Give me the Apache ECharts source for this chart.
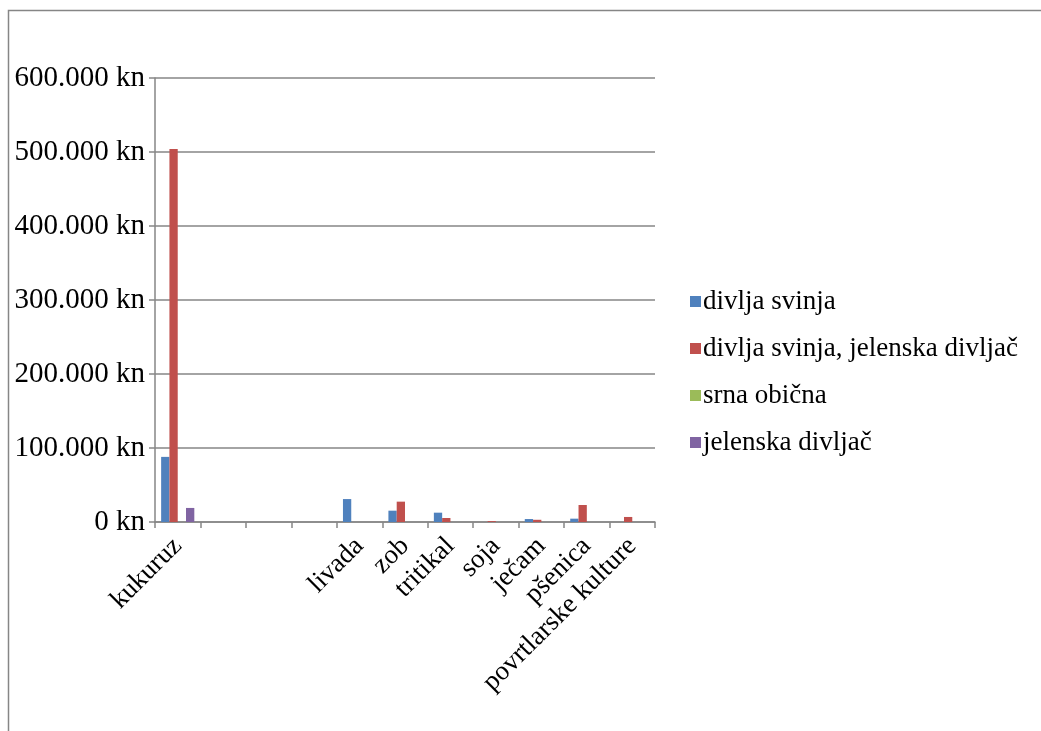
<!DOCTYPE html>
<html><head><meta charset="utf-8">
<script src="https://cdn.jsdelivr.net/npm/echarts@6/dist/echarts.min.js"></script>
<style>html,body{margin:0;padding:0;background:#fff}#c{width:1041px;height:731px}</style>
</head><body><div id="c"></div>
<script>
const categories = ['kukuruz', '', '', '', 'livada', 'zob', 'tritikal', 'soja', 'ječam', 'pšenica', 'povrtlarske kulture'];
const seriesNames = ['divlja svinja', 'divlja svinja, jelenska divljač', 'srna obična', 'jelenska divljač'];
const divljaSvinja = [88000, 0, 0, 0, 31000, 15300, 12600, 0, 4000, 4500, 0];
const divljaSvinjaJelenska = [504000, 0, 0, 0, 0, 27500, 5400, 1200, 3000, 23000, 6800];
const srnaObicna = [0, 0, 0, 0, 0, 0, 0, 0, 0, 0, 0];
const jelenskaDivljac = [19000, 0, 0, 0, 0, 0, 0, 0, 0, 0, 0];
const yTicks = [0, 100000, 200000, 300000, 400000, 500000, 600000];
const colors = ['#4F81BD', '#C0504D', '#9BBB59', '#8064A2'];

const font = '"Liberation Serif", "Times New Roman", serif';
function fmt(v){ return v === 0 ? '0 kn' : String(v).replace(/\B(?=(\d{3})+(?!\d))/g, '.') + ' kn'; }

const chart = echarts.init(document.getElementById('c'), null, {renderer: 'canvas'});
const allData = [divljaSvinja, divljaSvinjaJelenska, srnaObicna, jelenskaDivljac];
chart.setOption({
  animation: false,
  color: colors,
  graphic: [{type: 'polyline', shape: {points: [[8.5, 731], [8.5, 10.5], [1041, 10.5]]}, style: {stroke: '#868686', lineWidth: 1.5, fill: null}, silent: true}],
  legend: {
    orient: 'vertical', left: 685, top: 283, itemGap: 20, itemWidth: 11, itemHeight: 11, icon: 'rect',
    textStyle: {fontFamily: font, fontSize: 27, color: '#000', padding: [0,0,0,-3]},
    data: seriesNames
  },
  grid: {left: 155, right: 386, top: 78, bottom: 209, containLabel: false},
  xAxis: {
    type: 'category', data: categories,
    axisLine: {lineStyle: {color: '#868686', width: 1.5}},
    axisTick: {show: true, length: 6, lineStyle: {color: '#868686', width: 1.5}, interval: 0},
    axisLabel: {interval: 0, rotate: 45, fontFamily: font, fontSize: 27, color: '#000', margin: 20}
  },
  yAxis: {
    type: 'value', min: 0, max: 600000, interval: 100000,
    axisLine: {show: true, lineStyle: {color: '#868686', width: 1.5}},
    axisTick: {show: true, length: 6, lineStyle: {color: '#868686', width: 1.5}},
    splitLine: {lineStyle: {color: '#868686', width: 1.5}},
    axisLabel: {fontFamily: font, fontSize: 29, color: '#000', margin: 10, formatter: fmt}
  },
  series: seriesNames.map((n, i) => ({
    name: n, type: 'bar', data: allData[i], barGap: '0%', barCategoryGap: '27%',
    itemStyle: {color: colors[i]}
  }))
});
</script></body></html>
